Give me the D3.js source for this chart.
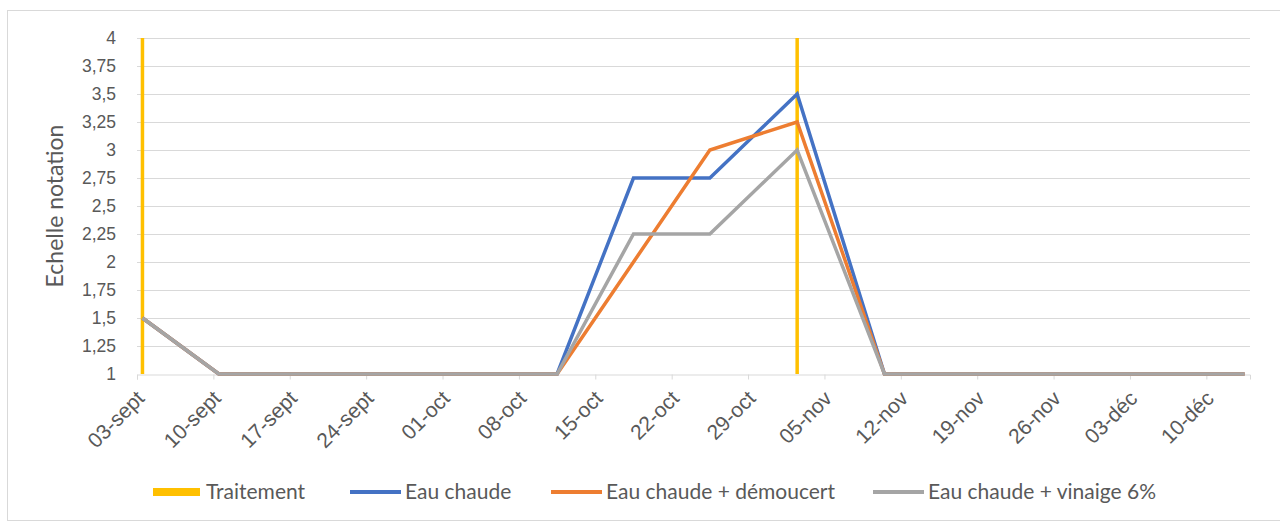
<!DOCTYPE html>
<html>
<head>
<meta charset="utf-8">
<script src="https://cdn.jsdelivr.net/npm/d3@7"></script>
<style>
  body { margin: 0; background: #fff; }
  svg { display: block; font-family: Lato, "Liberation Sans", sans-serif; }
  .grid line { stroke: #d9d9d9; stroke-width: 1; }
  .tick text { fill: #595959; }
</style>
</head>
<body>
<div id="chart"></div>
<script>
'use strict';

// observation dates and series values
var dates = ['2021-09-03', '2021-09-10', '2021-10-11', '2021-10-18', '2021-10-25', '2021-11-02', '2021-11-10', '2021-12-13'];
var eauChaude = [1.5, 1, 1, 2.75, 2.75, 3.5, 1, 1];
var demoucert = [1.5, 1, 1, 2, 3, 3.25, 1, 1];
var vinaigre = [1.5, 1, 1, 2.25, 2.25, 3, 1, 1];

// treatment dates
var traitements = ['2021-09-03', '2021-11-02'];

// axis ticks
var xTickDates = ['2021-09-03', '2021-09-10', '2021-09-17', '2021-09-24', '2021-10-01', '2021-10-08', '2021-10-15',
	'2021-10-22', '2021-10-29', '2021-11-05', '2021-11-12', '2021-11-19', '2021-11-26', '2021-12-03', '2021-12-10'];
var yTicks = [1, 1.25, 1.5, 1.75, 2, 2.25, 2.5, 2.75, 3, 3.25, 3.5, 3.75, 4];
var moisCourts = ['janv', 'févr', 'mars', 'avr', 'mai', 'juin', 'juil', 'août', 'sept', 'oct', 'nov', 'déc'];

var seriesNames = ['Eau chaude', 'Eau chaude + démoucert', 'Eau chaude + vinaige 6%'];
var seriesColors = ['#4472c4', '#ed7d31', '#a5a5a5'];
var seriesValues = [eauChaude, demoucert, vinaigre];

var width = 1280, height = 523;
var margin = { left: 137, right: 30, top: 38, bottom: 149 };

var parse = d3.timeParse('%Y-%m-%d');
var DAY = 86400000;
var start = parse('2021-09-03');
var end = parse('2021-12-14');

// each date occupies a one-day band; points sit at the band centre
function center(d) { return new Date(d.getTime() + DAY / 2); }

var x = d3.scaleTime()
	.domain([start, end])
	.range([margin.left, width - margin.right]);

var y = d3.scaleLinear()
	.domain([1, 4])
	.range([height - margin.bottom, margin.top]);

var svg = d3.select('#chart').append('svg')
	.attr('width', width)
	.attr('height', height);

// outer frame
svg.append('rect')
	.attr('x', 7.5).attr('y', 10.5)
	.attr('width', 1290).attr('height', 510)
	.attr('fill', 'none')
	.attr('stroke', '#d9d9d9');

// horizontal gridlines
svg.append('g')
	.attr('class', 'grid')
	.selectAll('line')
	.data(yTicks.slice(1))
	.enter().append('line')
	.attr('x1', margin.left).attr('x2', width - margin.right)
	.attr('y1', function (d) { return Math.round(y(d)) + 0.5; })
	.attr('y2', function (d) { return Math.round(y(d)) + 0.5; });

// y axis labels
var yAxis = d3.axisLeft(y)
	.tickValues(yTicks)
	.tickSize(0)
	.tickPadding(21)
	.tickFormat(function (d) { return String(d).replace('.', ','); });

svg.append('g')
	.attr('transform', 'translate(' + margin.left + ',0)')
	.call(yAxis)
	.call(function (g) { g.select('.domain').remove(); })
	.selectAll('text')
	.style('font-size', '17.5px');

// x axis
var xAxis = d3.axisBottom(x)
	.tickValues(xTickDates.map(parse))
	.tickSize(5)
	.tickFormat(function (d) {
		return d3.timeFormat('%d')(d) + '-' + moisCourts[d.getMonth()];
	});

var gx = svg.append('g')
	.attr('transform', 'translate(0,' + (Math.round(y(1)) + 0.5) + ')')
	.call(xAxis);

gx.select('.domain').attr('stroke', '#d9d9d9');
gx.selectAll('.tick line').attr('stroke', '#d9d9d9');
gx.selectAll('.tick text')
	.style('font-size', '21px')
	.attr('text-anchor', 'end')
	.attr('y', 0)
	.attr('dy', '0.35em')
	.attr('transform', 'translate(3,20) rotate(-45)');

// y axis title
svg.append('text')
	.attr('transform', 'translate(63,' + ((y(1) + y(4)) / 2) + ') rotate(-90)')
	.attr('text-anchor', 'middle')
	.style('font-size', '23px')
	.attr('fill', '#595959')
	.text('Echelle notation');

// treatment lines
svg.append('g')
	.selectAll('line')
	.data(traitements.map(parse))
	.enter().append('line')
	.attr('x1', function (d) { return x(center(d)); })
	.attr('x2', function (d) { return x(center(d)); })
	.attr('y1', y(1))
	.attr('y2', y(4))
	.attr('stroke', '#ffc000')
	.attr('stroke-width', 3.5);

// series lines
var line = d3.line()
	.x(function (d) { return x(center(d.date)); })
	.y(function (d) { return y(d.value); });

seriesValues.forEach(function (vals, i) {
	var pts = vals.map(function (v, j) { return { date: parse(dates[j]), value: v }; });
	svg.append('path')
		.datum(pts)
		.attr('fill', 'none')
		.attr('stroke', seriesColors[i])
		.attr('stroke-width', 3.5)
		.attr('stroke-linejoin', 'miter')
		.attr('d', line);
});

// legend
var legendItems = [
	{ name: 'Traitement', color: '#ffc000', x: 153, box: true },
	{ name: seriesNames[0], color: seriesColors[0], x: 350 },
	{ name: seriesNames[1], color: seriesColors[1], x: 551 },
	{ name: seriesNames[2], color: seriesColors[2], x: 873 }
];

var legend = svg.append('g')
	.attr('transform', 'translate(0,492)');

var item = legend.selectAll('g')
	.data(legendItems)
	.enter().append('g')
	.attr('transform', function (d) { return 'translate(' + d.x + ',0)'; });

item.append('rect')
	.attr('x', 0)
	.attr('y', function (d) { return d.box ? -4 : -2; })
	.attr('width', function (d) { return d.box ? 47 : 51; })
	.attr('height', function (d) { return d.box ? 8 : 4; })
	.attr('fill', function (d) { return d.color; });

item.append('text')
	.attr('x', function (d) { return d.box ? 53 : 55; })
	.attr('dy', '0.35em')
	.style('font-size', '21px')
	.attr('fill', '#595959')
	.text(function (d) { return d.name; });
</script>
</body>
</html>
